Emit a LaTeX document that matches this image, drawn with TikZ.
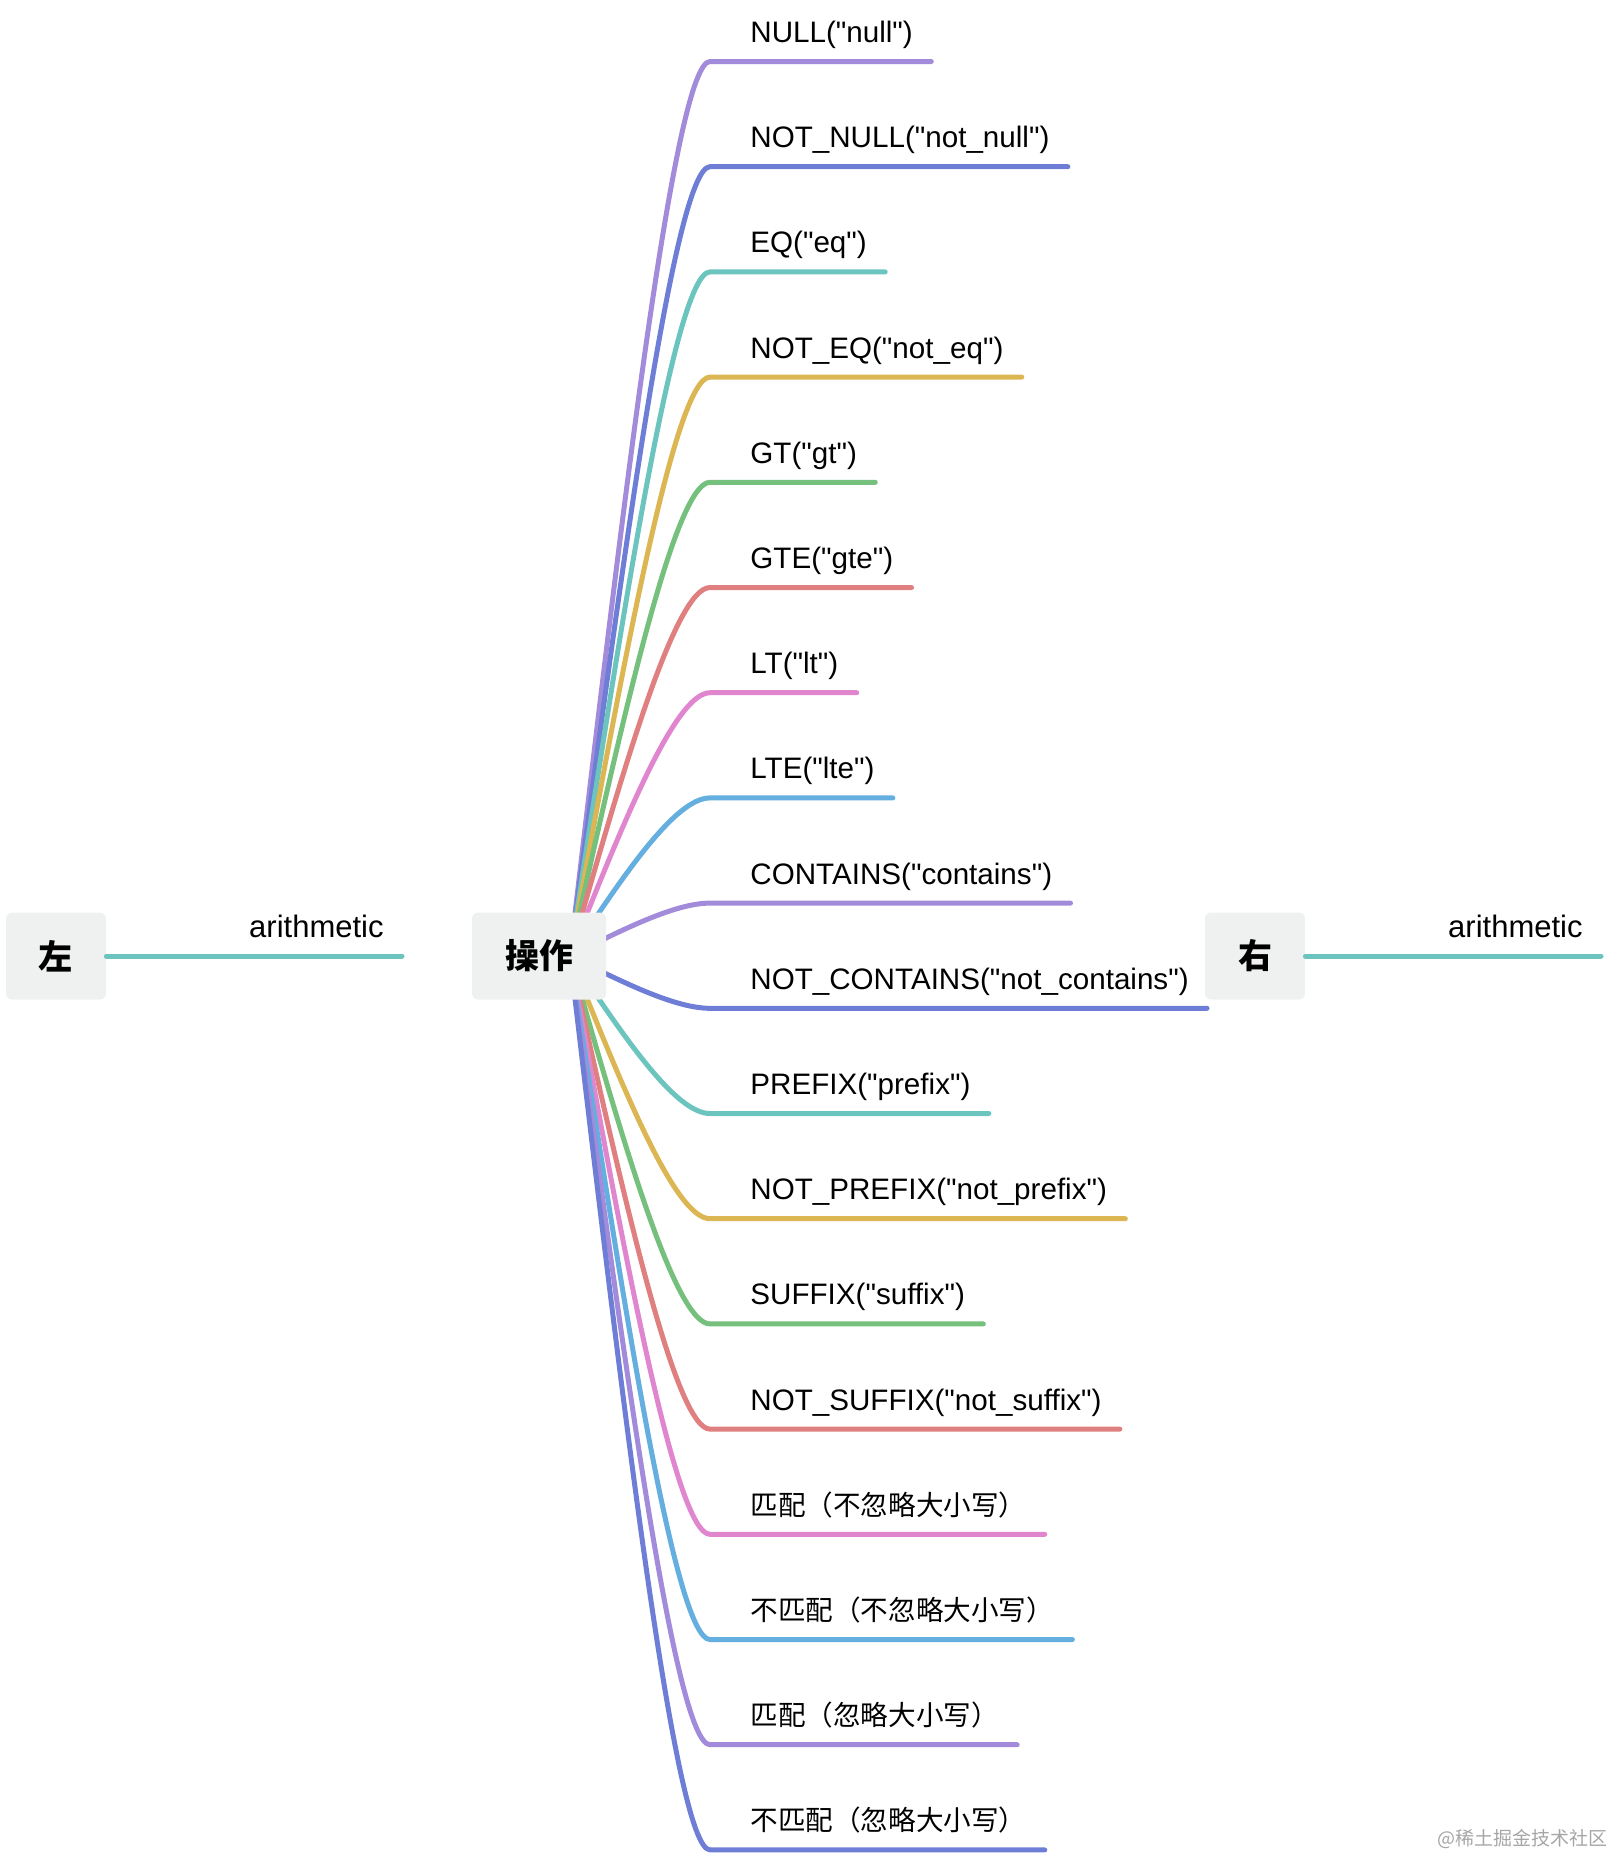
\documentclass[tikz,border=0pt]{standalone}
\usepackage{fontspec}
\setmainfont{Liberation Sans}[Ligatures=TeXOff]
\newfontfamily\cjk{Noto Sans CJK SC}
\usetikzlibrary{calc,backgrounds}
\definecolor{cPurple}{HTML}{A38BDB}
\definecolor{cBlue}{HTML}{6E7ED6}
\definecolor{cTeal}{HTML}{6CC4BF}
\definecolor{cGold}{HTML}{DDB654}
\definecolor{cGreen}{HTML}{75C07D}
\definecolor{cRed}{HTML}{E07F7F}
\definecolor{cPink}{HTML}{E086CF}
\definecolor{cSky}{HTML}{64AEE0}
\definecolor{boxgray}{HTML}{EFF1F1}
\newcommand{\zh}[1]{{\cjk\fontsize{13.8}{16}\selectfont #1}}

\begin{document}
\begin{tikzpicture}[x=0.5pt,y=-0.5pt,
	topic/.style={fill=boxgray,rounded corners=3pt,minimum width=50pt,minimum height=43.5pt,inner sep=0pt,font=\cjk\bfseries\fontsize{17}{20}\selectfont},
	leaf/.style={anchor=base west,inner xsep=9pt,inner ysep=0pt,font=\fontsize{14.8}{17}\selectfont},
	branch/.style={line width=2.5pt,line cap=round}]

\useasboundingbox (0,0) rectangle (1607,1860);

%%%%%%%%%%%%%%%%%%%%%%%%%%%%%%%%%%%%%%

\node[topic,minimum width=67pt] (root) at (539,956) {操作};
\node[topic] (left) at (56,956) {左};
\node[topic] (right) at (1255,956) {右};
\coordinate (hub) at ([xshift=15.5pt]root.center);

%%%%%%%%%%%%%%%%%%%%%%%%%%%%%%%%%%%%%%

\foreach \i/\col/\txt in {
	1/cPurple/NULL("null"),
	2/cBlue/NOT\_NULL("not\_null"),
	3/cTeal/EQ("eq"),
	4/cGold/NOT\_EQ("not\_eq"),
	5/cGreen/GT("gt"),
	6/cRed/GTE("gte"),
	7/cPink/LT("lt"),
	8/cSky/LTE("lte"),
	9/cPurple/CONTAINS("contains"),
	10/cBlue/NOT\_CONTAINS("not\_contains"),
	11/cTeal/PREFIX("prefix"),
	12/cGold/NOT\_PREFIX("not\_prefix"),
	13/cGreen/SUFFIX("suffix"),
	14/cRed/NOT\_SUFFIX("not\_suffix"),
	15/cPink/\zh{匹配（不忽略大小写）},
	16/cSky/\zh{不匹配（不忽略大小写）},
	17/cPurple/\zh{匹配（忽略大小写）},
	18/cBlue/\zh{不匹配（忽略大小写）}} {
	\pgfmathsetmacro\yy{61.5+105.2*(\i-1)}
	\node[leaf] (b\i) at (732,\yy-19) {\txt};
	\coordinate (k\i) at (710,\yy);
	\coordinate (q\i) at (675,\yy);
	\begin{scope}[on background layer]
		\draw[branch,\col] (hub) .. controls ($(hub)!0.5!(q\i)$) and (q\i) .. (k\i) -- (k\i -| b\i.east);
	\end{scope}
}

%%%%%%%%%%%%%%%%%%%%%%%%%%%%%%%%%%%%%%

\node[leaf,anchor=base east,font=\fontsize{15.5}{18}\selectfont] (la) at (402,937) {arithmetic};
\node[leaf,anchor=base east,font=\fontsize{15.5}{18}\selectfont] (ra) at (1601,937) {arithmetic};
\draw[branch,cTeal] (left.east) -- (left.east -| la.east);
\draw[branch,cTeal] (right.east) -- (right.east -| ra.east);

\node[anchor=base west,inner sep=0pt,text=black!35,font=\cjk\fontsize{9.5}{11}\selectfont] (mark) at (1437,1845) {@稀土掘金技术社区};

\end{tikzpicture}
\end{document}
